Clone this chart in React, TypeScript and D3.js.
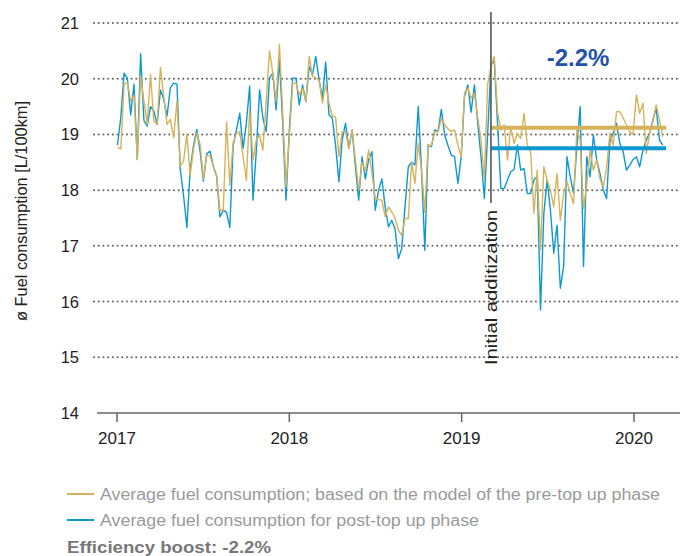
import React from "react";
import * as d3 from "d3";

const START_DATE = "2017-01-02";
const ADDITIZATION_DATE = "2019-03-04";
const MEAN_END_DATE = "2020-03-09";

const goldValues: number[] = [
  18.77, 18.74, 19.9, 19.93, 19.6, 19.7, 18.55, 20.05, 19.6, 19.18,
  20.08, 19.24, 19.18, 20.2, 19.69, 19.18, 19.27, 18.94, 19.6, 18.43,
  18.52, 19.0, 18.27, 18.74, 19.03, 18.82, 18.2, 18.62, 18.62, 18.43,
  18.25, 17.64, 17.64, 19.23, 18.09, 18.85, 19.02, 19.05, 18.6, 18.18,
  19.44, 18.54, 18.9, 18.99, 18.72, 19.6, 20.5, 20.1, 19.59, 20.62,
  19.38, 18.06, 18.96, 19.92, 19.92, 19.71, 19.83, 19.59, 20.4, 20.04,
  20.01, 19.98, 19.56, 19.89, 19.56, 19.33, 19.31, 18.6, 19.05, 19.05,
  18.75, 19.08, 18.54, 18.0, 18.5, 18.35, 18.72, 18.3, 17.85, 17.83,
  17.82, 17.52, 17.7, 17.61, 17.5, 17.28, 17.19, 17.49, 17.49, 18.5,
  18.12, 18.84, 18.36, 17.6, 18.81, 18.8, 19.05, 19.05, 19.28, 19.17,
  19.1, 19.05, 19.08, 18.81, 18.6, 19.74, 19.83, 19.65, 19.74, 19.3,
  18.9, 18.2, 19.9, 20.22, 20.4, 19.4, 19.08, 19.17, 18.54, 19.14,
  18.84, 19.02, 18.93, 19.38, 18.81, 18.69, 17.58, 18.36, 16.93, 18.42,
  18.18, 18.0, 17.7, 18.3, 17.46, 17.94, 18.15, 17.94, 17.76, 19.08,
  18.9, 17.67, 18.1, 18.72, 18.36, 18.54, 18.2, 18.06, 18.4, 19.02,
  18.81, 19.41, 19.41, 19.3, 19.17, 19.05, 19.0, 19.71, 19.38, 19.56,
  18.66, 19.02, 19.23, 19.53, 19.26, 18.96,
];

const blueValues: number[] = [
  18.81, 19.3, 20.1, 20.0, 19.35, 19.9, 18.55, 20.45, 19.25, 19.15,
  19.5, 19.42, 19.18, 19.8, 19.63, 19.33, 19.84, 19.92, 19.9, 18.37,
  17.9, 17.33, 18.37, 18.8, 19.09, 18.7, 18.16, 18.65, 18.7, 18.43,
  18.25, 17.52, 17.64, 17.6, 17.33, 18.8, 19.08, 19.38, 18.75, 19.2,
  19.87, 17.82, 18.7, 19.8, 19.3, 19.05, 20.01, 20.1, 19.44, 20.34,
  19.2, 17.82, 19.08, 20.01, 20.01, 19.53, 19.89, 19.59, 20.22, 20.07,
  20.4, 19.98, 19.65, 20.3, 19.35, 19.29, 18.8, 18.15, 18.9, 19.2,
  18.75, 19.08, 18.42, 17.82, 18.6, 18.2, 18.55, 18.69, 17.64, 18.0,
  18.2, 17.7, 17.34, 17.46, 17.3, 16.77, 16.95, 17.7, 18.42, 18.5,
  18.45, 19.5, 18.36, 16.92, 18.81, 18.78, 19.08, 19.05, 19.45, 18.99,
  18.8, 18.63, 18.6, 18.12, 18.6, 19.68, 19.89, 19.4, 19.89, 19.2,
  18.6, 17.85, 19.0, 20.25, 20.33, 19.2, 18.03, 18.03, 18.18, 18.33,
  18.37, 18.81, 18.36, 18.39, 17.94, 17.94, 18.18, 18.25, 15.85, 17.58,
  18.18, 17.64, 16.87, 17.37, 16.24, 16.63, 18.6, 18.24, 17.94, 18.78,
  19.5, 16.63, 18.6, 18.24, 18.99, 18.54, 18.3, 18.0, 17.85, 18.87,
  19.02, 19.2, 18.84, 18.69, 18.36, 18.45, 18.55, 18.6, 18.42, 18.72,
  18.9, 19.02, 19.26, 19.47, 18.9, 18.81,
];

const goldMean = 19.12;
const blueMean = 18.75;

const yTicks = [14, 15, 16, 17, 18, 19, 20, 21];
const xTickYears = [2017, 2018, 2019, 2020];

const legendLabels = [
  "Average fuel consumption; based on the model of the pre-top up phase",
  "Average fuel consumption for post-top up phase",
];
const boostLabel = "Efficiency boost: -2.2%";
const deltaLabel = "-2.2%";
const yTitle = "ø Fuel consumption [L/100km]";
const eventLabel = "Initial additization";

const GOLD = "#d6b25a";
const BLUE = "#0e98d2";
const legendColors = [GOLD, BLUE];
const legendWidths = [560, 379];
const FONT = "'Liberation Sans', Arial, Helvetica, sans-serif";

export default function App() {
  const W = 680;
  const H = 556;
  const start = new Date(START_DATE + "T00:00:00");
  const dates = goldValues.map((_, i) => d3.timeDay.offset(start, i * 7));

  const x = d3
    .scaleTime()
    .domain([new Date(2017, 0, 1), new Date(2020, 0, 1)])
    .range([117, 634]);
  const y = d3.scaleLinear().domain([14, 21]).range([413, 23]);

  const axisLeftX = 97;
  const axisRightX = 680;
  const gridLeft = 94;

  const line = d3
    .line<number>()
    .x((_, i) => x(dates[i]))
    .y((d) => y(d));

  const addX = x(new Date(ADDITIZATION_DATE + "T00:00:00"));
  const meanEndX = x(new Date(MEAN_END_DATE + "T00:00:00"));

  return (
    <svg
      width={W}
      height={H}
      style={{ position: "absolute", left: 0, top: 0, background: "#fff" }}
      fontFamily={FONT}
    >
      {yTicks
        .filter((t) => t !== 14)
        .map((t) => (
          <line
            key={"g" + t}
            x1={gridLeft}
            x2={axisRightX}
            y1={y(t)}
            y2={y(t)}
            stroke="#666"
            strokeWidth={2}
            strokeLinecap="round"
            strokeDasharray="0.1 4.6"
          />
        ))}
      {yTicks.map((t) => (
        <text
          key={"yl" + t}
          x={79}
          y={y(t)}
          dy="0.36em"
          textAnchor="end"
          fontSize={16.5}
          fill="#222"
        >
          {t}
        </text>
      ))}
      <line x1={axisLeftX} x2={axisRightX} y1={y(14)} y2={y(14)} stroke="#666" strokeWidth={1.5} />
      {xTickYears.map((yr) => {
        const xx = x(new Date(yr, 0, 1));
        return (
          <g key={"xt" + yr}>
            <line x1={xx} x2={xx} y1={y(14)} y2={y(14) + 9} stroke="#666" strokeWidth={1.5} />
            <text x={xx} y={y(14) + 31} textAnchor="middle" fontSize={17} fill="#222">
              {yr}
            </text>
          </g>
        );
      })}
      <text
        transform={`translate(27, 211) rotate(-90)`}
        textAnchor="middle"
        fontSize={16}
        fill="#222"
        textLength={220}
        lengthAdjust="spacingAndGlyphs"
      >
        {yTitle}
      </text>

      <path d={line(blueValues) || ""} fill="none" stroke={BLUE} strokeWidth={1.4} strokeLinejoin="round" />
      <path d={line(goldValues) || ""} fill="none" stroke={GOLD} strokeWidth={1.4} strokeLinejoin="round" />

      <line x1={addX} x2={meanEndX} y1={y(goldMean)} y2={y(goldMean)} stroke={GOLD} strokeWidth={4} />
      <line x1={addX} x2={meanEndX} y1={y(blueMean)} y2={y(blueMean)} stroke={BLUE} strokeWidth={4} />

      <line x1={addX} x2={addX} y1={12} y2={203} stroke="#555" strokeWidth={1.6} />
      <text
        transform={`translate(${addX + 6}, 210) rotate(-90)`}
        textAnchor="end"
        fontSize={17}
        fill="#222"
        textLength={155}
        lengthAdjust="spacingAndGlyphs"
      >
        {eventLabel}
      </text>

      <text x={578} y={66} textAnchor="middle" fontSize={24} fontWeight="bold" fill="#2453a6">
        {deltaLabel}
      </text>

      {legendLabels.map((label, i) => {
        const ly = 494 + i * 26;
        return (
          <g key={"lg" + i}>
            <line x1={67} x2={94} y1={ly} y2={ly} stroke={legendColors[i]} strokeWidth={2} />
            <text
              x={100}
              y={ly}
              dy="0.35em"
              fontSize={16}
              fill="#9a9a9a"
              textLength={legendWidths[i]}
              lengthAdjust="spacingAndGlyphs"
            >
              {label}
            </text>
          </g>
        );
      })}
      <text
        x={67}
        y={553}
        fontSize={16}
        fontWeight="bold"
        fill="#777"
        textLength={204}
        lengthAdjust="spacingAndGlyphs"
      >
        {boostLabel}
      </text>
    </svg>
  );
}
